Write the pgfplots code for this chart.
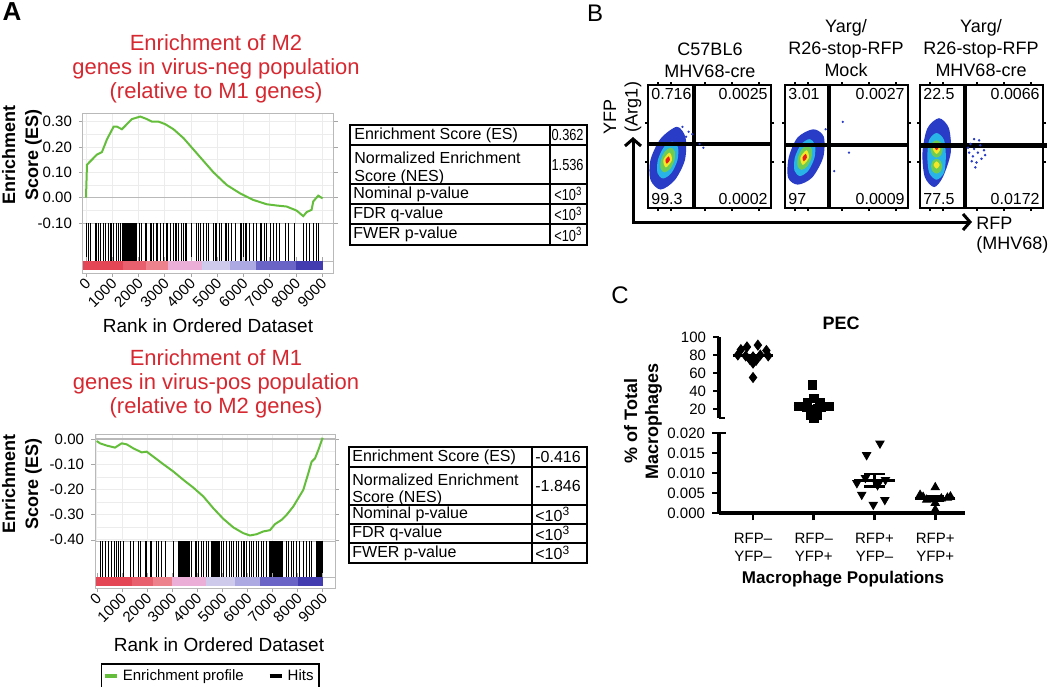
\documentclass[border=0pt]{standalone}
\usepackage{fontspec}
\setmainfont{Liberation Sans}
\usepackage{graphicx}
\usepackage{pgfplots}
\pgfplotsset{compat=1.18}
\usetikzlibrary{arrows.meta}
\newcommand{\fs}[2]{\fontsize{#1}{#2}\selectfont}
\newcommand{\sq}[1]{\scalebox{0.8}[1]{#1}}
\definecolor{titlered}{RGB}{214,40,48}
\definecolor{esgreen}{RGB}{100,190,60}
\definecolor{cbA}{RGB}{228,70,85}
\definecolor{cbB}{RGB}{232,95,110}
\definecolor{cbC}{RGB}{238,130,140}
\definecolor{cbD}{RGB}{235,175,215}
\definecolor{cbE}{RGB}{205,202,236}
\definecolor{cbF}{RGB}{172,168,226}
\definecolor{cbG}{RGB}{105,100,198}
\definecolor{cbH}{RGB}{66,60,176}
\definecolor{fblue}{RGB}{40,60,200}
\definecolor{fcyan}{RGB}{40,180,230}
\definecolor{fgreen}{RGB}{110,205,80}
\definecolor{fyellow}{RGB}{245,230,40}
\definecolor{fred}{RGB}{230,30,30}
\pgfplotsset{
  gsea/.style={scale only axis, anchor=north west, axis line style={gray!55, line width=0.5pt},
    tick style={gray!70}, /pgf/number format/assume math mode=true, /pgf/number format/1000 sep={}},
  flow/.style={scale only axis, anchor=north west, width=61.5pt, height=61.5pt, xmin=0, xmax=100, ymin=0, ymax=100,
    axis line style={line width=1pt}, xtick={8,19,46,68,90}, ytick={37,69}, xticklabels={}, yticklabels={},
    tick align=outside, major tick length=1.5pt, tick style={line width=1pt, black}, clip=false},
  pec/.style={scale only axis, anchor=north west, width=123pt, xmin=-0.56, xmax=3.49, clip=false,
    /pgf/number format/assume math mode=true, tick style={line width=1.3pt, black}, tick align=outside,
    major tick length=3pt, yticklabel style={font=\fs{7.5}{8}}},
}
\begin{document}
\begin{tikzpicture}
\useasboundingbox (0,0) rectangle (525pt,-343pt);

% ---------------- Panel A ----------------
\node[font=\bfseries\fs{13}{14}] at (6pt,-6pt) {A};
\node[align=center, text=titlered, font=\fs{11}{12}] at (108pt,-34.5pt) {Enrichment of M2\\genes in virus-neg population\\(relative to M1 genes)};
\node[align=center, text=titlered, font=\fs{11}{12}] at (108pt,-192pt) {Enrichment of M1\\genes in virus-pos population\\(relative to M2 genes)};
\node[rotate=90, align=center, font=\bfseries\fs{9}{11.5}] at (11pt,-77.5pt) {Enrichment\\Score (ES)};
\node[rotate=90, align=center, font=\bfseries\fs{9}{11.5}] at (11pt,-242pt) {Enrichment\\Score (ES)};
\node[font=\fs{9.5}{11}] at (104pt,-163pt) {Rank in Ordered Dataset};
\node[font=\fs{9.5}{11}] at (109.5pt,-322.5pt) {Rank in Ordered Dataset};

% top ES
\begin{axis}[gsea, at={(41.5pt,-56.5pt)}, width=125.5pt, height=55pt,
  xmin=-114, xmax=9458, ymin=-0.10, ymax=0.334,
  xtick={0,1000,...,9000}, xticklabels={}, xtick style={draw=none},
  ytick={-0.1,0,0.1,0.2,0.3}, minor y tick num=1, grid=both, grid style={gray!15, line width=0.3pt},
  minor tick length=0pt, tick align=outside, major tick length=2pt,
  yticklabel style={font=\fs{7.5}{9}, /pgf/number format/.cd, fixed, fixed zerofill, precision=2}]
\addplot[gray!55, line width=0.6pt] coordinates {(-200,0) (9600,0)};
\addplot[esgreen, line width=1pt] coordinates {(0,0) (38,0.13) (228,0.15) (419,0.17) (609,0.18) (800,0.23) (1053,0.28) (1180,0.28) (1370,0.27) (1561,0.29) (1751,0.31) (2069,0.32) (2322,0.31) (2512,0.30) (2766,0.30) (3020,0.29) (3337,0.27) (3718,0.235) (4099,0.19) (4480,0.145) (4860,0.10) (5368,0.05) (5876,0.017) (6383,-0.009) (6891,-0.026) (7271,-0.031) (7652,-0.035) (8033,-0.051) (8287,-0.073) (8414,-0.057) (8604,-0.048) (8667,-0.015) (8858,0.008) (9023,-0.003)};
\end{axis}
% top hits
\begin{axis}[gsea, at={(41.5pt,-111.5pt)}, width=125.5pt, height=19pt, xmin=-114, xmax=9458, ymin=0, ymax=1, xtick=\empty, ytick=\empty]
\addplot[ycomb, black, line width=0.45pt, mark=none] coordinates {(0,1)(89,1)(153,1)(343,1)(407,1)(470,1)(559,1)(661,1)(724,1)(852,1)(915,1)(979,1)(1042,1)(1169,1)(1233,1)(1296,1)(1400,1)(1425,1)(1450,1)(1475,1)(1500,1)(1525,1)(1550,1)(1575,1)(1600,1)(1625,1)(1650,1)(1675,1)(1700,1)(1725,1)(1750,1)(1775,1)(1800,1)(1825,1)(1850,1)(1875,1)(1932,1)(2034,1)(2123,1)(2250,1)(2313,1)(2466,1)(2504,1)(2567,1)(2669,1)(2720,1)(2822,1)(2949,1)(3050,1)(3101,1)(3203,1)(3330,1)(3394,1)(3457,1)(3521,1)(3648,1)(3711,1)(3775,1)(3838,1)(4029,1)(4220,1)(4283,1)(4372,1)(4474,1)(4601,1)(4665,1)(4855,1)(4919,1)(4982,1)(5084,1)(5173,1)(5300,1)(5364,1)(5427,1)(5554,1)(5681,1)(5872,1)(5936,1)(5999,1)(6063,1)(6126,1)(6253,1)(6380,1)(6507,1)(6635,1)(6698,1)(6825,1)(6889,1)(7016,1)(7143,1)(7270,1)(7397,1)(7588,1)(7715,1)(7969,1)(8287,1)(8414,1)(8541,1)(8668,1)(8795,1)(8859,1)};
\end{axis}
% top colour bar
\begin{axis}[gsea, at={(41.5pt,-130.5pt)}, width=125.5pt, height=6pt, xmin=-114, xmax=9458, ymin=0, ymax=1, ytick=\empty,
  xtick={0,1000,...,9000}, tick align=outside, major tick length=2pt,
  xticklabel style={font=\fs{7.5}{9}, rotate=45, anchor=east, inner sep=0.5pt, yshift=-2pt}]
\addplot[draw=none, fill=cbA] coordinates {(-100,0.25)(-100,1)(1420,1)(1420,0.25)};
\addplot[draw=none, fill=cbB] coordinates {(1420,0.25)(1420,1)(2300,1)(2300,0.25)};
\addplot[draw=none, fill=cbC] coordinates {(2300,0.25)(2300,1)(3140,1)(3140,0.25)};
\addplot[draw=none, fill=cbD] coordinates {(3140,0.25)(3140,1)(4410,1)(4410,0.25)};
\addplot[draw=none, fill=cbE] coordinates {(4410,0.25)(4410,1)(5500,1)(5500,0.25)};
\addplot[draw=none, fill=cbF] coordinates {(5500,0.25)(5500,1)(6500,1)(6500,0.25)};
\addplot[draw=none, fill=cbG] coordinates {(6500,0.25)(6500,1)(8000,1)(8000,0.25)};
\addplot[draw=none, fill=cbH] coordinates {(8000,0.25)(8000,1)(9024,1)(9024,0.25)};
\end{axis}

% bottom ES
\begin{axis}[gsea, at={(47.5pt,-217pt)}, width=120pt, height=53.5pt,
  xmin=-68, xmax=9490, ymin=-0.405, ymax=0.02,
  xtick={0,1000,...,9000}, xticklabels={}, xtick style={draw=none},
  ytick={-0.4,-0.3,-0.2,-0.1,0}, minor y tick num=1, grid=both, grid style={gray!15, line width=0.3pt},
  minor tick length=0pt, tick align=outside, major tick length=2pt,
  yticklabel style={font=\fs{7.5}{9}, /pgf/number format/.cd, fixed, fixed zerofill, precision=2},
  legend image code/.code={\draw[#1, line width=2pt] (0pt,0pt) -- (6pt,0pt);},
  legend style={at={(0.48,-1.265)}, anchor=center, draw=black, line width=0.8pt, font=\fs{7.5}{9},
    inner sep=0.6pt, /tikz/every even column/.append style={column sep=10pt}},
  legend columns=2]
\addplot[gray!55, line width=0.6pt, forget plot] coordinates {(-200,0) (9600,0)};
\addplot[esgreen, line width=1pt, forget plot] coordinates {(0,-0.008) (133,-0.017) (398,-0.026) (730,-0.034) (995,-0.017) (1194,-0.021) (1460,-0.037) (1791,-0.053) (1990,-0.050) (2256,-0.070) (2654,-0.100) (3052,-0.129) (3450,-0.162) (3848,-0.193) (4246,-0.228) (4645,-0.275) (5043,-0.317) (5441,-0.351) (5839,-0.374) (6104,-0.383) (6370,-0.378) (6635,-0.367) (6900,-0.362) (7099,-0.338) (7365,-0.321) (7564,-0.301) (7829,-0.268) (8028,-0.235) (8227,-0.202) (8427,-0.136) (8559,-0.090) (8692,-0.077) (8825,-0.044) (8997,0.005)};
\addlegendimage{esgreen}
\addlegendentry{Enrichment profile}
\addlegendimage{black}
\addlegendentry{Hits}
\end{axis}
% bottom hits
\begin{axis}[gsea, at={(47.5pt,-270.5pt)}, width=120pt, height=18pt, xmin=-68, xmax=9490, ymin=0, ymax=1, xtick=\empty, ytick=\empty]
\addplot[ycomb, black, line width=0.5pt, mark=none] coordinates {(133,1)(239,1)(332,1)(464,1)(597,1)(690,1)(796,1)(863,1)(929,1)(1062,1)(1327,1)(1460,1)(1659,1)(1725,1)(1924,1)(1991,1)(2123,1)(2190,1)(2389,1)(2455,1)(2588,1)(2720,1)(3052,1)(3250,1)(3280,1)(3310,1)(3340,1)(3370,1)(3400,1)(3430,1)(3470,1)(3500,1)(3530,1)(3560,1)(3600,1)(3630,1)(3660,1)(3700,1)(3782,1)(3915,1)(3981,1)(4047,1)(4180,1)(4246,1)(4379,1)(4445,1)(4575,1)(4605,1)(4635,1)(4665,1)(4700,1)(4730,1)(4760,1)(4790,1)(4820,1)(4850,1)(4910,1)(4976,1)(5043,1)(5175,1)(5308,1)(5374,1)(5441,1)(5573,1)(5640,1)(5772,1)(5839,1)(5905,1)(5972,1)(6104,1)(6170,1)(6237,1)(6370,1)(6436,1)(6569,1)(6635,1)(6768,1)(6900,1)(6930,1)(6960,1)(6990,1)(7020,1)(7050,1)(7080,1)(7110,1)(7140,1)(7170,1)(7200,1)(7230,1)(7260,1)(7290,1)(7320,1)(7350,1)(7380,1)(7410,1)(7564,1)(7630,1)(7763,1)(7829,1)(7962,1)(8094,1)(8227,1)(8360,1)(8493,1)(8559,1)(8760,1)(8790,1)(8820,1)(8850,1)(8880,1)(8910,1)(8940,1)(8970,1)(8990,1)};
\end{axis}
% bottom colour bar
\begin{axis}[gsea, at={(47.5pt,-288.5pt)}, width=120pt, height=5.5pt, xmin=-68, xmax=9490, ymin=0, ymax=1, ytick=\empty,
  xtick={0,1000,...,9000}, tick align=outside, major tick length=2pt,
  xticklabel style={font=\fs{7.5}{9}, rotate=45, anchor=east, inner sep=0.5pt, yshift=-2pt}]
\addplot[draw=none, fill=cbA] coordinates {(-27,0.2)(-27,1)(1400,1)(1400,0.2)};
\addplot[draw=none, fill=cbB] coordinates {(1400,0.2)(1400,1)(2250,1)(2250,0.2)};
\addplot[draw=none, fill=cbC] coordinates {(2250,0.2)(2250,1)(2990,1)(2990,0.2)};
\addplot[draw=none, fill=cbD] coordinates {(2990,0.2)(2990,1)(4350,1)(4350,0.2)};
\addplot[draw=none, fill=cbE] coordinates {(4350,0.2)(4350,1)(5500,1)(5500,0.2)};
\addplot[draw=none, fill=cbF] coordinates {(5500,0.2)(5500,1)(6500,1)(6500,0.2)};
\addplot[draw=none, fill=cbG] coordinates {(6500,0.2)(6500,1)(8000,1)(8000,0.2)};
\addplot[draw=none, fill=cbH] coordinates {(8000,0.2)(8000,1)(9025,1)(9025,0.2)};
\end{axis}

% tables
\begin{scope}[font=\fs{8}{9}]
\draw[line width=1pt] (175pt,-62.5pt) rectangle (293.5pt,-122.5pt);
\draw[line width=0.8pt] (275pt,-62.5pt) -- (275pt,-122.5pt);
\foreach \yy in {72.5,92,102,112} \draw[line width=0.8pt] (175pt,-\yy pt) -- (293.5pt,-\yy pt);
\node[anchor=west, inner sep=0pt] at (177pt,-67.5pt) {Enrichment Score (ES)};
\node[anchor=east, inner sep=0pt] at (292pt,-67.5pt) {\sq{0.362}};
\node[anchor=north west, align=left, inner sep=0pt] at (177pt,-76pt) {Normalized Enrichment\\Score (NES)};
\node[anchor=east, inner sep=0pt] at (292pt,-82.25pt) {\sq{1.536}};
\node[anchor=west, inner sep=0pt] at (176.5pt,-97pt) {Nominal p-value};
\node[anchor=west, inner sep=0pt] at (176.5pt,-107pt) {FDR q-value};
\node[anchor=west, inner sep=0pt] at (176.5pt,-117.25pt) {FWER p-value};
\node[anchor=west, inner sep=0pt] at (277pt,-97pt) {\sq{<10\textsuperscript{3}}};
\node[anchor=west, inner sep=0pt] at (277pt,-107pt) {\sq{<10\textsuperscript{3}}};
\node[anchor=west, inner sep=0pt] at (277pt,-117.25pt) {\sq{<10\textsuperscript{3}}};

\draw[line width=1pt] (174.5pt,-223.5pt) rectangle (293.5pt,-281.5pt);
\draw[line width=0.8pt] (266pt,-223.5pt) -- (266pt,-281.5pt);
\foreach \yy in {233.5,252.5,262,271.5} \draw[line width=0.8pt] (174.5pt,-\yy pt) -- (293.5pt,-\yy pt);
\node[anchor=west, inner sep=0pt] at (176pt,-228.5pt) {Enrichment Score (ES)};
\node[anchor=west, inner sep=0pt] at (267.5pt,-228.5pt) {-0.416};
\node[anchor=north west, align=left, inner sep=0pt] at (176pt,-236.5pt) {Normalized Enrichment\\Score (NES)};
\node[anchor=west, inner sep=0pt] at (267.5pt,-243pt) {-1.846};
\node[anchor=west, inner sep=0pt] at (176pt,-257.25pt) {Nominal p-value};
\node[anchor=west, inner sep=0pt] at (176pt,-266.75pt) {FDR q-value};
\node[anchor=west, inner sep=0pt] at (176pt,-276.5pt) {FWER p-value};
\node[anchor=west, inner sep=0pt] at (267.5pt,-257.25pt) {<10\textsuperscript{3}};
\node[anchor=west, inner sep=0pt] at (267.5pt,-266.75pt) {<10\textsuperscript{3}};
\node[anchor=west, inner sep=0pt] at (267.5pt,-276.5pt) {<10\textsuperscript{3}};
\end{scope}

% ---------------- Panel B ----------------
\node[font=\fs{12}{13}] at (297.5pt,-6.5pt) {B};
\node[align=center, font=\fs{9}{11}] at (355pt,-30pt) {C57BL6\\MHV68-cre};
\node[align=center, font=\fs{9}{11}] at (423pt,-24.25pt) {Yarg/\\R26-stop-RFP\\Mock};
\node[align=center, font=\fs{9}{11}] at (490.5pt,-24.25pt) {Yarg/\\R26-stop-RFP\\MHV68-cre};
\node[rotate=90, font=\fs{9}{10}] at (305pt,-58.5pt) {YFP};
\node[rotate=90, font=\fs{9}{10}] at (316.5pt,-53.5pt) {(Arg1)};
\draw[line width=1.5pt, {Straight Barb[length=3.5pt,width=8pt]}-{Straight Barb[length=3.5pt,width=8pt]}] (316.5pt,-68.5pt) -- (316.5pt,-111pt) -- (486pt,-111pt);
\node[anchor=west, font=\fs{9}{10}, inner sep=1pt] at (487pt,-111.5pt) {RFP};
\node[anchor=west, font=\fs{9}{10}, inner sep=1pt] at (487pt,-122.5pt) {(MHV68)};

\begin{axis}[flow, at={(324pt,-42.5pt)}]
\addplot[draw=none, fill=fblue, smooth cycle] coordinates {(30,39) (30.5,57.3) (23.5,66) (10.2,56.3) (2,39) (2.1,22.7) (10.3,15) (21.8,22.7)};
\addplot[draw=none, fill=fcyan, smooth cycle] coordinates {(24,39) (24.3,49.6) (19.75,54) (13,49.6) (8,39) (7.7,28.4) (12.25,24) (19,28.4)};
\addplot[draw=none, fill=fgreen, smooth cycle] coordinates {(21.5,39) (21.7,46.1) (18.5,49) (13.9,46.1) (10.5,39) (10.3,31.9) (13.5,29) (18.1,31.9)};
\addplot[draw=none, fill=fyellow, smooth cycle] coordinates {(19.5,39) (17.5,45) (12.5,39) (14.5,33)};
\addplot[draw=none, fill=fred, smooth cycle] coordinates {(17.8,39) (16.75,42) (14.2,39) (15.25,36)};
\addplot[only marks, mark=*, mark size=0.35pt, fblue] coordinates {(31,58) (33,62) (28,66) (42,52) (45,49) (36,60)};
\addplot[line width=2pt] coordinates {(37.7,0) (37.7,100)};
\addplot[line width=2pt] coordinates {(0,52) (100,52)};
\node[anchor=north west, font=\fs{8}{9}, inner sep=1.5pt] at (rel axis cs:0,1) {0.716};
\node[anchor=north east, font=\fs{8}{9}, inner sep=1.5pt] at (rel axis cs:1,1) {0.0025};
\node[anchor=south west, font=\fs{8}{9}, inner sep=1.5pt] at (rel axis cs:0,0) {99.3};
\node[anchor=south east, font=\fs{8}{9}, inner sep=1.5pt] at (rel axis cs:1,0) {0.0002};
\end{axis}

\begin{axis}[flow, at={(392.5pt,-42.5pt)}]
\addplot[draw=none, fill=fblue, smooth cycle] coordinates {(31,41) (31.5,58) (23,64) (10.2,57.3) (3,41) (2.5,24.7) (10.3,19) (22,24.7)};
\addplot[draw=none, fill=fcyan, smooth cycle] coordinates {(24,41) (24.3,51.6) (19.75,56) (13,51.6) (8,41) (7.7,30.4) (12.25,26) (19,30.4)};
\addplot[draw=none, fill=fgreen, smooth cycle] coordinates {(21.5,41) (21.7,48.1) (18.5,51) (13.9,48.1) (10.5,41) (10.3,33.9) (13.5,31) (18.1,33.9)};
\addplot[draw=none, fill=fyellow, smooth cycle] coordinates {(19.5,41) (17.5,47) (12.5,41) (14.5,35)};
\addplot[draw=none, fill=fred, smooth cycle] coordinates {(17.8,41) (16.75,44) (14.2,41) (15.25,38)};
\addplot[only marks, mark=*, mark size=0.35pt, fblue] coordinates {(47,70) (52,45) (40,30) (33,64)};
\addplot[line width=2pt] coordinates {(36,0) (36,100)};
\addplot[line width=2pt] coordinates {(0,51) (100,51)};
\node[anchor=north west, font=\fs{8}{9}, inner sep=1.5pt] at (rel axis cs:0,1) {3.01};
\node[anchor=north east, font=\fs{8}{9}, inner sep=1.5pt] at (rel axis cs:1,1) {0.0027};
\node[anchor=south west, font=\fs{8}{9}, inner sep=1.5pt] at (rel axis cs:0,0) {97};
\node[anchor=south east, font=\fs{8}{9}, inner sep=1.5pt] at (rel axis cs:1,0) {0.0009};
\end{axis}

\begin{axis}[flow, at={(460pt,-42.5pt)}]
\addplot[draw=none, fill=fblue, smooth cycle] coordinates {(25,45) (23.5,64.8) (15.5,73) (6,64.8) (2,45) (3.9,25.2) (11.5,17) (18.6,25.2)};
\addplot[draw=none, fill=fcyan, smooth cycle] coordinates {(21,42) (19.5,55.4) (13.5,61) (7.5,55.4) (6,42) (7.5,28.6) (13.5,23) (19.5,28.6)};
\addplot[draw=none, fill=fgreen, smooth cycle] coordinates {(18.5,48) (17,53) (13.5,55) (10,53) (8.5,48) (10,43) (13.5,41) (17,43)};
\addplot[draw=none, fill=fgreen, smooth cycle] coordinates {(18,34) (16.7,38.2) (13.5,40) (10.3,38.2) (9,34) (10.3,29.8) (13.5,28) (16.7,29.8)};
\addplot[draw=none, fill=fyellow, smooth cycle] coordinates {(16.5,48) (13.5,52) (10.5,48) (13.5,44)};
\addplot[draw=none, fill=fyellow, smooth cycle] coordinates {(16,35) (13.5,38) (11,35) (13.5,32)};
\addplot[draw=none, fill=fred, smooth cycle] coordinates {(15,49) (13.5,51) (12,49) (13.5,47)};
\addplot[only marks, mark=*, mark size=0.4pt, fblue] coordinates {(41,52) (44,48) (47,45) (43,42) (50,40) (46,37) (52,47) (40,45) (48,55) (45,33) (42,38) (49,51) (39,49) (53,43) (44,56)};
\addplot[line width=2pt] coordinates {(36.9,0) (36.9,100)};
\addplot[line width=2.5pt] coordinates {(0,51) (103,51)};
\node[anchor=north west, font=\fs{8}{9}, inner sep=1.5pt] at (rel axis cs:0,1) {22.5};
\node[anchor=north east, font=\fs{8}{9}, inner sep=1.5pt] at (rel axis cs:1,1) {0.0066};
\node[anchor=south west, font=\fs{8}{9}, inner sep=1.5pt] at (rel axis cs:0,0) {77.5};
\node[anchor=south east, font=\fs{8}{9}, inner sep=1.5pt] at (rel axis cs:1,0) {0.0172};
\end{axis}

% ---------------- Panel C ----------------
\node[font=\fs{12}{13}] at (310pt,-147.5pt) {C};
\node[font=\bfseries\fs{9}{10}] at (420.5pt,-161.5pt) {PEC};
\node[rotate=90, align=center, font=\bfseries\fs{9}{10.5}] at (321.5pt,-210.5pt) {\% of Total\\Macrophages};
\node[font=\bfseries\fs{8.5}{10}] at (421.5pt,-289.5pt) {Macrophage Populations};

\begin{axis}[pec, at={(359.5pt,-168.5pt)}, height=40.5pt, ymin=10, ymax=100,
  axis x line=none, axis y line*=left, y axis line style={line width=2pt},
  ytick={20,40,60,80,100},
  extra y ticks={10}, extra y tick labels={}, extra y tick style={tick align=inside}]
\addplot[only marks, mark=diamond*, mark size=2.5pt, black] coordinates {(-0.10,89) (0.08,91) (-0.2,86) (0.22,85) (-0.25,80) (-0.12,79) (0.0,78) (0.12,80) (0.25,79) (-0.05,75) (0.05,74) (0.0,71) (0.0,55)};
\addplot[line width=1.5pt] coordinates {(-0.33,79) (0.33,79)};
\addplot[line width=1.2pt] coordinates {(0,76) (0,82)};
\addplot[only marks, mark=square*, mark size=2.1pt, black] coordinates {(0.98,47) (1.0,32) (0.9,27) (1.1,27) (0.75,23) (1.25,23) (0.88,22) (1.12,22) (0.95,19) (1.05,19) (1.0,16) (0.95,13) (1.05,13) (1.0,10)};
\addplot[line width=1.5pt] coordinates {(0.67,22.4) (1.33,22.4)};
\addplot[line width=1.2pt] coordinates {(1,19.5) (1,25.5)};
\end{axis}

\begin{axis}[pec, at={(359.5pt,-216.5pt)}, height=40pt, ymin=0, ymax=0.02,
  axis lines*=left, axis line style={line width=2pt}, major tick length=3.5pt,
  ytick={0,0.005,0.01,0.015,0.02}, scaled y ticks=false,
  yticklabel style={/pgf/number format/.cd, fixed, fixed zerofill, precision=3},
  extra y ticks={0.02}, extra y tick labels={}, extra y tick style={tick align=inside},
  xtick={0,1,2,3}, xticklabels={{RFP–\\YFP–},{RFP–\\YFP+},{RFP+\\YFP–},{RFP+\\YFP+}},
  xticklabel style={align=center, font=\fs{7.5}{9}, yshift=-3pt}]
\addplot[only marks, mark=triangle*, mark size=2.4pt, mark options={rotate=180}, black] coordinates {(2.09,0.0174) (1.87,0.0145) (1.85,0.0088) (2.18,0.0083) (1.71,0.0075) (1.79,0.0046) (1.98,0.0021) (2.17,0.0033) (2.05,0.0070)};
\addplot[line width=1.5pt] coordinates {(1.67,0.0082) (2.33,0.0082)};
\addplot[line width=1.2pt] coordinates {(2,0.0066) (2,0.0098)};
\addplot[line width=1.2pt] coordinates {(1.83,0.0098) (2.17,0.0098)};
\addplot[line width=1.2pt] coordinates {(1.83,0.0066) (2.17,0.0066)};
\addplot[only marks, mark=triangle*, mark size=2.4pt, black] coordinates {(3.0,0.0064) (2.75,0.0045) (3.25,0.0041) (2.86,0.0033) (3.0,0.0025) (3.0,0.0008) (2.8,0.0040) (3.2,0.0038) (3.1,0.0036)};
\addplot[line width=1.5pt] coordinates {(2.67,0.0037) (3.33,0.0037)};
\addplot[line width=1.2pt] coordinates {(3,0.0031) (3,0.0043)};
\addplot[line width=1.2pt] coordinates {(2.85,0.0043) (3.15,0.0043)};
\addplot[line width=1.2pt] coordinates {(2.85,0.0031) (3.15,0.0031)};
\end{axis}
\end{tikzpicture}
\end{document}
